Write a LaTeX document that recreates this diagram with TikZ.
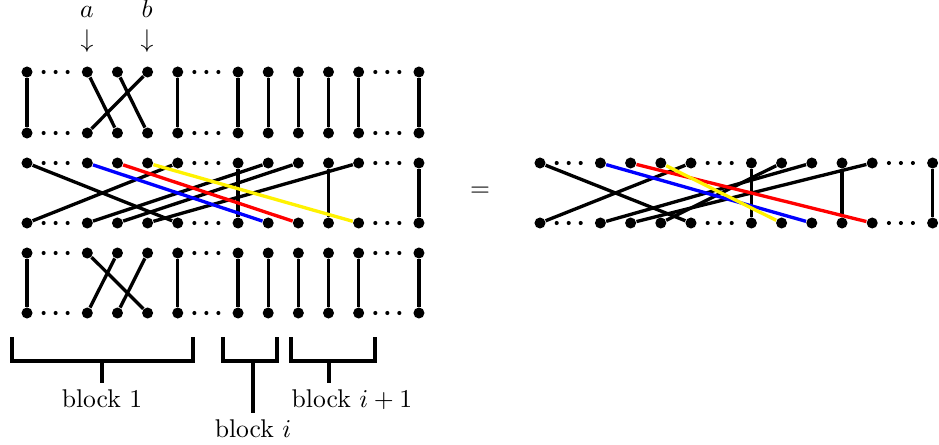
\documentclass[tikz,border=0pt]{standalone}
\begin{document}
\begin{tikzpicture}[x=0.39pt,y=-0.39pt,
  pt/.style={circle,fill=black,inner sep=0pt,minimum size=4.3pt},
  wire/.style={line width=1.3pt},
  ell/.style={circle,fill=black,inner sep=0pt,minimum size=1.6pt},
  brk/.style={line width=1.2pt},
  lbl/.style={anchor=base,inner sep=0pt}]
\useasboundingbox (0,0) rectangle (939,445);
% points
\foreach \b/\x/\s/\yu/\yd in {T/27/30.15/72/133, M/27/30.15/163/223, B/27/30.15/253/313, R/540/30.2/163/223} {
  \foreach \k in {0,2,3,4,5,7,8,9,10,11,13} {
    \node[pt] (\b u\k) at ({\x+\s*\k},\yu) {};
    \node[pt] (\b d\k) at ({\x+\s*\k},\yd) {};
  }
  \foreach \k in {1,6,12} {
    \foreach \o [count=\j] in {-12,0,12} {
      \node[ell] (\b ue\k-\j) at ({\x+\s*\k-1.5+\o},\yu) {};
      \node[ell] (\b de\k-\j) at ({\x+\s*\k-1.5+\o},\yd) {};
    }
  }
}
% top block
\foreach \k in {0,5,7,8,9,10,11,13} \draw[wire] (Tu\k) -- (Td\k);
\draw[wire] (Tu2) -- (Td3);
\draw[wire] (Tu3) -- (Td4);
\draw[wire] (Tu4) -- (Td2);
% bottom block
\foreach \k in {0,5,7,8,9,10,11,13} \draw[wire] (Bu\k) -- (Bd\k);
\draw[wire] (Bu2) -- (Bd4);
\draw[wire] (Bu3) -- (Bd2);
\draw[wire] (Bu4) -- (Bd3);
% middle block
\foreach \k in {7,10,13} \draw[wire] (Mu\k) -- (Md\k);
\draw[wire] (Mu0) -- (Md5);
\draw[wire] (Md0) -- (Mu5);
\draw[wire] (Md2) -- (Mu8);
\draw[wire] (Md3) -- (Mu9);
\draw[wire] (Md4) -- (Mu11);
\draw[wire,blue] (Mu2) -- (Md8);
\draw[wire,red] (Mu3) -- (Md9);
\draw[wire,yellow] (Mu4) -- (Md11);
% right diagram
\foreach \k in {7,10,13} \draw[wire] (Ru\k) -- (Rd\k);
\draw[wire] (Ru0) -- (Rd5);
\draw[wire] (Rd0) -- (Ru5);
\draw[wire] (Rd2) -- (Ru9);
\draw[wire] (Rd3) -- (Ru11);
\draw[wire] (Rd4) -- (Ru8);
\draw[wire,blue] (Ru2) -- (Rd9);
\draw[wire,red] (Ru3) -- (Rd11);
\draw[wire,yellow] (Ru4) -- (Rd8);
% labels a, b
\node[lbl] (la) at (87,18) {$a$};
\node[lbl] (aa) at (87,48) {$\downarrow$};
\node[lbl] (lb) at (147,18) {$b$};
\node[lbl] (ab) at (147,48) {$\downarrow$};
% equals
\node (eq) at (480,192) {$=$};
% brackets
\draw[brk] (12,337) |- (193,361) -- (193,337);
\draw[brk] (102,361) -- (102,383);
\draw[brk] (223,337) |- (277,361) -- (277,337);
\draw[brk] (253,361) -- (253,413);
\draw[brk] (291,337) |- (375,361) -- (375,337);
\draw[brk] (329,361) -- (329,383);
\node[lbl] (bl1) at (102,407) {block $1$};
\node[lbl] (bli) at (253,437) {block $i$};
\node[lbl] (blj) at (352,407) {block $i+1$};
\end{tikzpicture}
\end{document}
